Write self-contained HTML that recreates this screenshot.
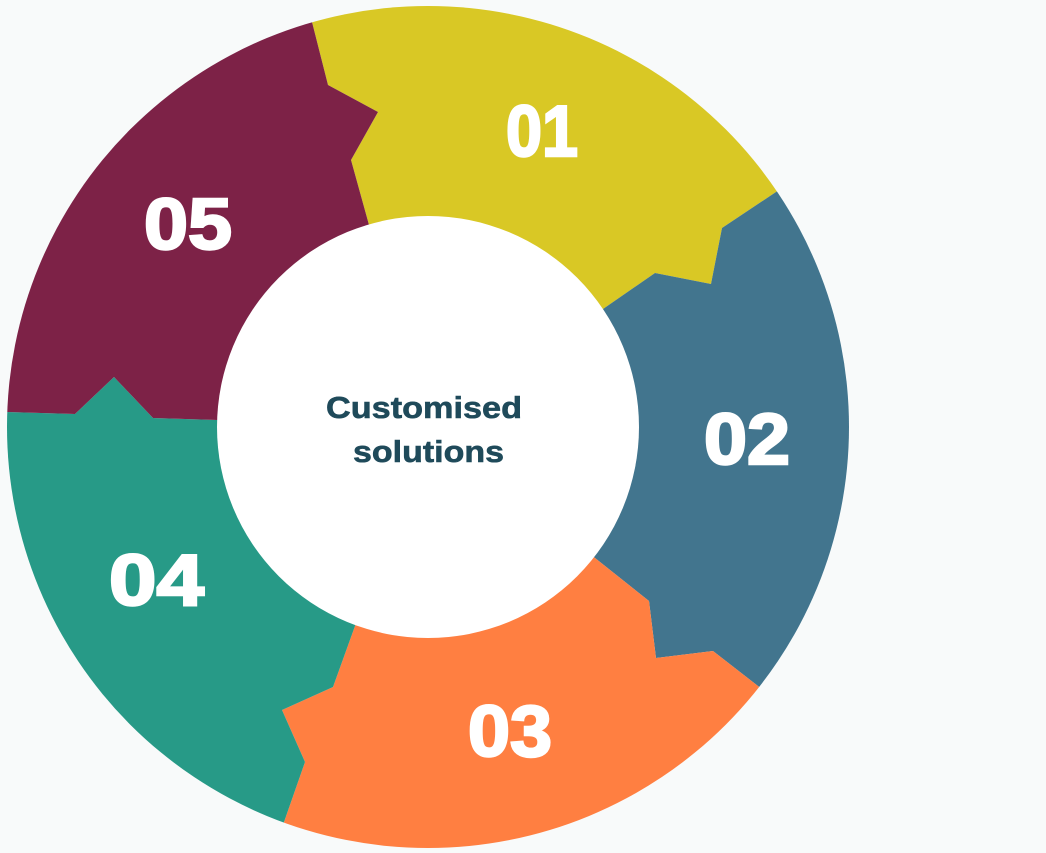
<!DOCTYPE html>
<html><head><meta charset="utf-8"><style>
html,body{margin:0;padding:0;background:#f8fafa;width:1046px;height:853px;overflow:hidden;}
svg{display:block;}
text{font-family:"Liberation Sans",sans-serif;font-weight:bold;}
</style></head><body>
<svg width="1046" height="853" viewBox="0 0 1046 853">
<rect width="1046" height="853" fill="#f8fafa"/>
<defs><clipPath id="c"><circle cx="428" cy="427" r="421"/></clipPath></defs>
<g clip-path="url(#c)">
<polygon fill="#d9c825" points="428,427 369,225 351,160 378,112 328,85 312,22 306,0 1046,0 1046,0 850,140 776,192 722,228 711,284 655,273 603,309"/>
<polygon fill="#42758e" points="428,427 603,309 655,273 711,284 722,228 776,192 850,140 1046,0 1046,853 1046,853 820,735 758,686 713,651 656,658 649,601 595,558"/>
<polygon fill="#ff7f41" points="428,427 595,558 649,601 656,658 713,651 758,686 820,735 1046,853 270,853 284,822 305,762 282,710 333,687 355,626"/>
<polygon fill="#279a87" points="428,427 355,626 333,687 282,710 305,762 284,822 270,853 0,853 0,412 7,412 75,414 114,377 153,418 217,420"/>
<polygon fill="#7d2247" points="428,427 217,420 153,418 114,377 75,414 7,412 0,412 0,0 306,0 312,22 328,85 378,112 351,160 369,225"/>
</g>
<circle cx="428" cy="427" r="211" fill="#ffffff"/>
<g fill="#ffffff" stroke="#ffffff" stroke-width="2.5" font-size="72">
<text x="506" y="156" textLength="72" lengthAdjust="spacingAndGlyphs">01</text>
<text x="704" y="464" textLength="86" lengthAdjust="spacingAndGlyphs">02</text>
<text x="468" y="756" textLength="84" lengthAdjust="spacingAndGlyphs">03</text>
<text x="109" y="605" textLength="95" lengthAdjust="spacingAndGlyphs">04</text>
<text x="144" y="249" textLength="88" lengthAdjust="spacingAndGlyphs">05</text>
</g>
<g fill="#1f4a5a" stroke="#1f4a5a" stroke-width="0.6" font-size="31">
<text x="326" y="418" textLength="196" lengthAdjust="spacingAndGlyphs">Customised</text>
<text x="353" y="462" textLength="151" lengthAdjust="spacingAndGlyphs">solutions</text>
</g>
</svg>
</body></html>
